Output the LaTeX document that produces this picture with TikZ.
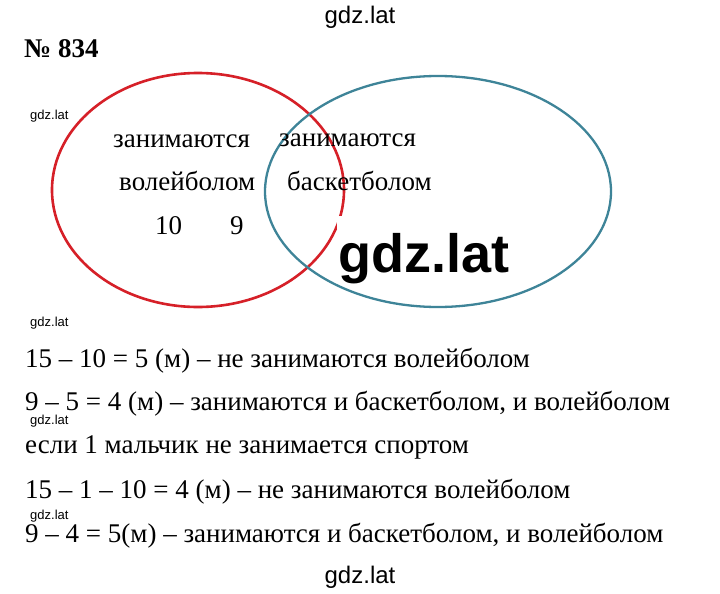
\documentclass[tikz,border=0pt]{standalone}
\usepackage{fontspec}
\setmainfont{Liberation Serif}
\newfontfamily\wmfont{Liberation Sans}
\definecolor{vred}{RGB}{214,32,40}
\definecolor{vteal}{RGB}{62,132,152}
\begin{document}
\begin{tikzpicture}[x=1pt,y=-1pt,
  txt/.style={anchor=base west,inner sep=0pt,font=\fontsize{27}{32}\selectfont},
  wmsmall/.style={anchor=base west,inner sep=0pt,font=\wmfont\fontsize{13}{15}\selectfont},
  wmtop/.style={anchor=base,inner sep=0pt,font=\wmfont\fontsize{24}{28}\selectfont},
  setline/.style={line width=2.6pt}]
\useasboundingbox[fill=white] (0,0) rectangle (720,594);
% Venn ellipses
\draw[setline,vred] (198,190) ellipse [x radius=146, y radius=117];
\draw[setline,vteal,line width=2.3pt] (438,191.5) ellipse [x radius=173, y radius=115.5];
% watermarks
\node[wmtop] (wtop) at (360,24) {gdz.lat};
\node[wmtop] (wbot) at (360,583) {gdz.lat};
\node[wmsmall] (w1) at (30,119) {gdz.lat};
\node[wmsmall] (w2) at (30,326) {gdz.lat};
\node[wmsmall] (w3) at (30,424) {gdz.lat};
\node[wmsmall] (w4) at (30,519) {gdz.lat};
\fill[white] (337,216) rectangle (343,229);
\node[anchor=base west,inner sep=0pt,font=\wmfont\bfseries\fontsize{54}{60}\selectfont] (wbig) at (338,272) {gdz.lat};
% title
\node[txt,font=\bfseries\fontsize{27}{32}\selectfont] (title) at (24,58) {№ 834};
% Venn labels
\node[txt] (l1) at (113,147) {занимаются};
\node[txt] (l2) at (119,190) {волейболом};
\node[txt] (n10) at (155,234) {10};
\node[txt] (n9) at (230,234) {9};
\node[txt] (r1) at (279,146) {занимаются};
\node[txt] (r2) at (287,190) {баскетболом};
% solution lines
\node[txt] (s1) at (25,367) {15 – 10 = 5 (м) – не занимаются волейболом};
\node[txt] (s2) at (25,410) {9 – 5 = 4 (м) – занимаются и баскетболом, и волейболом};
\node[txt] (s3) at (25,453) {если 1 мальчик не занимается спортом};
\node[txt] (s4) at (25,498) {15 – 1 – 10 = 4 (м) – не занимаются волейболом};
\node[txt] (s5) at (25,542) {9 – 4 = 5(м) – занимаются и баскетболом, и волейболом};
\end{tikzpicture}
\end{document}
